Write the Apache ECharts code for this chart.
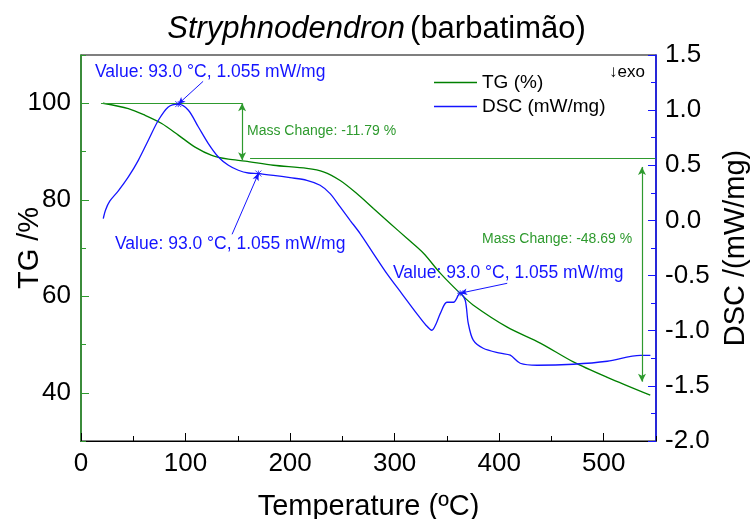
<!DOCTYPE html>
<html>
<head>
<meta charset="utf-8">
<script src="https://cdn.jsdelivr.net/npm/echarts@6/dist/echarts.min.js"></script>
<style>html,body{margin:0;padding:0;background:#fff}#c{width:753px;height:519px}</style>
</head>
<body>
<div id="c"></div>
<script>
// ---- data ----
const tgTemps = [21, 45.3, 61.3, 77.2, 93.1, 109.1, 125.1, 141.0, 157.0, 184.0, 216.0, 231.9, 247.9, 263.8, 279.7, 295.7, 311.7, 327.6, 343.6, 362.7, 375.0, 407.7, 439.3, 470.9, 503.4, 544.5];
const tgValues = [100.0, 98.9, 97.5, 95.8, 93.4, 90.9, 89.2, 88.4, 88.0, 87.15, 86.5, 85.8, 84.0, 81.3, 78.2, 75.1, 72.0, 68.9, 64.8, 60.6, 58.2, 53.6, 50.3, 46.4, 43.2, 39.5];
const dscTemps = [21.3, 23.5, 27.5, 35.7, 45.3, 54.8, 64.4, 74.0, 83.5, 93.0, 102.7, 112.3, 121.8, 131.4, 141.0, 150.5, 160.1, 169.7, 184.0, 200.0, 216.0, 228.7, 238.3, 247.9, 257.4, 267.0, 279.7, 292.6, 307.0, 321.2, 330.0, 335.6, 340.0, 343.6, 350.0, 356.3, 362.7, 367.5, 370.4, 375.2, 384.7, 401.0, 410.6, 420.1, 436.4, 470.9, 503.4, 535.0, 544.6];
const dscValues = [0.017, 0.095, 0.175, 0.268, 0.394, 0.545, 0.727, 0.908, 1.029, 1.055, 0.999, 0.847, 0.697, 0.575, 0.500, 0.455, 0.430, 0.425, 0.409, 0.388, 0.364, 0.319, 0.243, 0.122, 0.001, -0.119, -0.300, -0.482, -0.665, -0.845, -0.95, -0.996, -0.93, -0.845, -0.742, -0.742, -0.660, -0.724, -0.932, -1.086, -1.159, -1.204, -1.222, -1.295, -1.313, -1.304, -1.277, -1.223, -1.223];
const markTemps = [93.0, 169.7, 362.7];
const markDsc = [1.055, 0.425, -0.660];
const labelEndTemps = [116.8, 144.5, 407.7];
const labelEndDsc = [1.261, -0.126, -0.57];
const xTicks = [0, 100, 200, 300, 400, 500];
const tgTicks = [40, 60, 80, 100];
const seriesNames = ['TG (%)', 'DSC (mW/mg)'];
const valueText = 'Value: 93.0 °C, 1.055 mW/mg';
const massChange1 = { t0: 19.1, t1: 154.1, top: 100, bottom: 88.2, lineLevel: 88.66, lineStart: 161.7, lineEnd: 549.5, text: 'Mass Change: -11.79 %' };
const massChange2 = { t: 536.6, top: 86.8, bottom: 42.3, text: 'Mass Change: -48.69 %' };

const FONT = 'Liberation Sans';
const GREEN = '#008000';
const GREEN2 = '#2e9a2e';
const BLUE = '#1414ff';

const tgData = tgTemps.map((t, i) => [t, tgValues[i]]);
const dscData = dscTemps.map((t, i) => [t, dscValues[i]]);

const chart = echarts.init(document.getElementById('c'), null, { renderer: 'canvas' });

const blueArrows = markTemps.map((t, i) => [
  { coord: [labelEndTemps[i], labelEndDsc[i]], symbol: 'none' },
  { coord: [t, markDsc[i]], symbol: 'arrow', symbolSize: [5, 7] }
]);

const greenLines = [
  [{ coord: [massChange1.t0, massChange1.top], symbol: 'none' }, { coord: [massChange1.t1, massChange1.top], symbol: 'none' }],
  [{ coord: [massChange1.t1, massChange1.top], symbol: 'arrow', symbolSize: [6, 8] }, { coord: [massChange1.t1, massChange1.bottom], symbol: 'arrow', symbolSize: [6, 8] }],
  [{ coord: [massChange1.lineStart, massChange1.lineLevel], symbol: 'none' }, { coord: [massChange1.lineEnd, massChange1.lineLevel], symbol: 'none' }],
  [{ coord: [massChange2.t, massChange2.top], symbol: 'arrow', symbolSize: [6, 8] }, { coord: [massChange2.t, massChange2.bottom], symbol: 'arrow', symbolSize: [6, 8] }]
];

const txt = (x, y, text, color, size) => ({
  type: 'text', x: x, y: y, silent: true,
  style: { text: text, fill: color, font: size + 'px "' + FONT + '"', textVerticalAlign: 'middle', textAlign: 'left' }
});

chart.setOption({
  animation: false,
  backgroundColor: '#fff',
  textStyle: { fontFamily: FONT },
  title: {
    text: '{i|Stryphnodendron} {n|(barbatimão)}',
    left: 'center', top: 9,
    textStyle: {
      fontWeight: 'normal',
      rich: {
        i: { fontFamily: FONT, fontSize: 31, fontStyle: 'italic', fontWeight: 'normal', color: '#000' },
        n: { fontFamily: FONT, fontSize: 31, fontWeight: 'normal', color: '#000' }
      }
    }
  },
  grid: { left: 81, right: 97, top: 55, bottom: 78, show: true, borderColor: '#000', borderWidth: 1.2, containLabel: false, outerBoundsMode: 'none' },
  legend: {
    orient: 'vertical', left: 429, top: 68, itemWidth: 43, itemHeight: 1.5, itemGap: 5, icon: 'rect',
    textStyle: { fontFamily: FONT, fontSize: 19, color: '#000' },
    data: seriesNames
  },
  xAxis: [
    {
      type: 'value', min: 0, max: 550, interval: 100, position: 'bottom',
      axisLine: { show: true, onZero: false, lineStyle: { color: '#000', width: 1.2 } },
      axisTick: { show: true, inside: true, length: 8, lineStyle: { color: '#000' } },
      axisLabel: { fontFamily: FONT, fontSize: 26, color: '#000', margin: 10, showMaxLabel: false },
      splitLine: { show: false },
      name: 'Temperature (ºC)', nameLocation: 'middle', nameGap: 51, nameMoveOverlap: false,
      nameTextStyle: { fontFamily: FONT, fontSize: 29, color: '#000' }
    },
    {
      type: 'value', min: 0, max: 550, interval: 50, position: 'bottom',
      axisLine: { show: false, onZero: false },
      axisTick: { show: true, inside: true, length: 5, lineStyle: { color: '#000' } },
      axisLabel: { show: false }, splitLine: { show: false }
    }
  ],
  yAxis: [
    {
      type: 'value', min: 30, max: 110, interval: 10, position: 'left',
      axisLine: { show: true, onZero: false, lineStyle: { color: GREEN2, width: 1.5 } },
      axisTick: { show: true, inside: true, length: 5, lineStyle: { color: GREEN2 } },
      axisLabel: { fontFamily: FONT, fontSize: 26, color: '#000', margin: 10, formatter: v => (tgTicks.indexOf(v) >= 0 ? String(v) : '') },
      splitLine: { show: false },
      name: 'TG /%', nameLocation: 'middle', nameGap: 37, nameRotate: 90, nameMoveOverlap: false,
      nameTextStyle: { fontFamily: FONT, fontSize: 29, color: '#000' }
    },
    {
      type: 'value', min: 30, max: 110, position: 'left',
      axisLine: { show: false, onZero: false },
      axisTick: { show: true, inside: true, length: 8, customValues: tgTicks, lineStyle: { color: GREEN2 } },
      axisLabel: { show: false }, splitLine: { show: false }
    },
    {
      type: 'value', min: -2, max: 1.5, interval: 0.5, position: 'right',
      axisLine: { show: true, onZero: false, lineStyle: { color: BLUE, width: 1.5 } },
      axisTick: { show: true, inside: true, length: 8, lineStyle: { color: BLUE } },
      minorTick: { show: true, splitNumber: 2, length: 5, lineStyle: { color: BLUE } },
      axisLabel: { fontFamily: FONT, fontSize: 26, color: '#000', margin: 9, formatter: v => v.toFixed(1) },
      splitLine: { show: false },
      name: 'DSC /(mW/mg)', nameLocation: 'middle', nameGap: 65, nameRotate: 90, nameMoveOverlap: false,
      nameTextStyle: { fontFamily: FONT, fontSize: 29, color: '#000' }
    }
  ],
  series: [
    {
      name: seriesNames[0], type: 'line', xAxisIndex: 0, yAxisIndex: 0,
      data: tgData, showSymbol: false, smooth: 0.3,
      lineStyle: { color: GREEN, width: 1.3 }, itemStyle: { color: GREEN },
      markLine: {
        silent: true, animation: false, label: { show: false },
        lineStyle: { color: GREEN2, width: 1.2, type: 'solid' },
        emphasis: { disabled: true },
        data: greenLines
      }
    },
    {
      name: seriesNames[1], type: 'line', xAxisIndex: 0, yAxisIndex: 2,
      data: dscData, showSymbol: false, smooth: 0.3,
      lineStyle: { color: BLUE, width: 1.3 }, itemStyle: { color: BLUE },
      markLine: {
        silent: true, animation: false, label: { show: false },
        lineStyle: { color: BLUE, width: 1, type: 'solid' },
        emphasis: { disabled: true },
        data: blueArrows
      }
    },
    {
      name: 'markers', type: 'scatter', xAxisIndex: 0, yAxisIndex: 2,
      data: markTemps.map((t, i) => [t, markDsc[i]]),
      symbol: 'path://M0,0L10,10M10,0L0,10M5,0L5,10M0,5L10,5', symbolSize: 6,
      itemStyle: { color: 'none', borderColor: BLUE, borderWidth: 1 },
      silent: true, z: 5
    }
  ],
  graphic: [
    txt(95, 72, valueText, BLUE, 17.5),
    txt(115, 244, valueText, BLUE, 17.5),
    txt(393, 273, valueText, BLUE, 17.5),
    txt(247, 131, massChange1.text, GREEN2, 14),
    txt(482, 239, massChange2.text, GREEN2, 14),
    txt(609, 72, '↓exo', '#000', 17)
  ]
});
</script>
</body>
</html>
